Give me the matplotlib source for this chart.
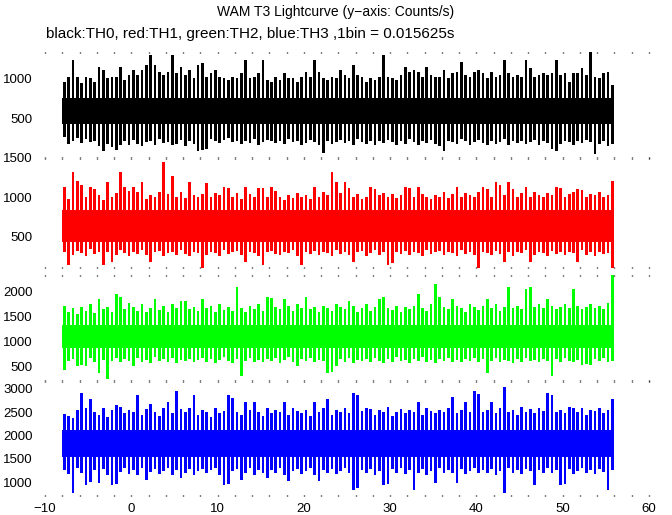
import numpy as np
import matplotlib
matplotlib.use("Agg")
import matplotlib.pyplot as plt

plt.rcParams['font.family'] = ['Liberation Sans', 'DejaVu Sans']

# time axis: 64 s of data, values read per 0.5 s bin (max and min of the bin)
t_start = -8.0
bin_s = 0.5

# TH0 (black)
th0_hi = [967, 1029, 1237, 1029, 946, 1029, 1008, 967, 1154, 1112, 1008, 1029, 1029, 1154, 987, 1050,
          1112, 1050, 1112, 1175, 1300, 1175, 1092, 1050, 1092, 1300, 1071, 1154, 1050, 1112, 1008, 1175,
          1196, 1029, 1071, 1112, 1029, 1008, 987, 1029, 1008, 1071, 1237, 1008, 1029, 1071, 1237, 987,
          967, 1029, 987, 1071, 1008, 1008, 967, 1029, 1092, 1029, 1237, 1092, 1008, 987, 1029, 1008,
          1112, 1050, 1008, 1175, 1050, 1029, 967, 1008, 987, 1029, 1300, 1029, 1008, 987, 1050, 1154,
          1092, 1112, 1092, 1029, 1154, 1050, 1029, 1029, 1112, 1008, 1071, 1092, 1217, 1050, 1029, 1092,
          1112, 1071, 1008, 1092, 1029, 1050, 1237, 1071, 1029, 1050, 1029, 1237, 1133, 1029, 1050, 1071,
          1050, 1071, 1237, 1050, 1071, 967, 1071, 1071, 1133, 1050, 1362, 1029, 1008, 1071, 1092, 925]
th0_lo = [260, 180, 220, 250, 190, 240, 200, 210, 150, 90, 180, 140, 100, 170, 210, 160,
          230, 180, 150, 200, 220, 170, 240, 190, 200, 160, 180, 230, 150, 210, 180, 90,
          100, 120, 240, 210, 190, 230, 250, 200, 220, 180, 210, 190, 240, 170, 200, 230,
          210, 190, 220, 180, 240, 200, 210, 160, 190, 230, 200, 170, 60, 220, 180, 200,
          230, 190, 210, 160, 240, 200, 180, 220, 170, 210, 190, 230, 200, 160, 220, 180,
          240, 200, 170, 210, 190, 230, 180, 150, 90, 220, 200, 180, 240, 210, 170, 200,
          230, 190, 160, 220, 180, 200, 240, 170, 210, 190, 220, 180, 200, 230, 160, 210,
          190, 120, 90, 180, 220, 200, 170, 210, 190, 230, 200, 50, 180, 210, 150, 175]

# TH1 (red)
th1_hi = [1130, 980, 1320, 1200, 1160, 1000, 1130, 1100, 1020, 960, 1190, 1000, 1050, 1320, 1130, 1080,
          1130, 1060, 1190, 980, 1030, 1000, 1060, 1450, 1040, 1270, 1000, 1060, 990, 1190, 1030, 1000,
          1040, 1180, 1000, 1050, 1020, 1130, 1110, 1000, 1050, 980, 1130, 1040, 1000, 1120, 1110, 1000,
          1130, 1080, 1000, 960, 1030, 990, 1050, 1000, 1020, 970, 1130, 1000, 1060, 1020, 1320, 1190,
          1050, 1190, 1120, 1000, 1040, 980, 1000, 1130, 1100, 1020, 1050, 1000, 1040, 990, 1020, 1130,
          1110, 1000, 1130, 1040, 1000, 980, 1030, 1000, 1060, 990, 1040, 1130, 1000, 1050, 1020, 1000,
          1060, 1130, 1100, 1000, 1190, 1150, 1030, 1190, 1100, 1000, 1050, 1130, 1000, 1060, 1020, 1000,
          1050, 1030, 1130, 1110, 1000, 1040, 1060, 1100, 1090, 1000, 1040, 1020, 1060, 1000, 1030, 1200]
th1_lo = [300, 130, 260, 310, 280, 250, 330, 270, 290, 130, 300, 170, 260, 320, 280, 250,
          300, 270, 320, 260, 170, 290, 310, 250, 280, 300, 260, 320, 270, 240, 300, 280,
          65, 260, 300, 280, 250, 320, 270, 290, 310, 260, 170, 300, 280, 250, 130, 290,
          310, 270, 260, 300, 280, 320, 250, 130, 290, 270, 310, 260, 300, 280, 250, 320,
          270, 300, 260, 170, 290, 310, 250, 280, 320, 260, 300, 130, 150, 290, 270, 310,
          260, 300, 280, 250, 320, 270, 290, 310, 260, 300, 280, 250, 320, 270, 290, 260,
          85, 300, 280, 260, 310, 270, 170, 290, 250, 300, 280, 320, 170, 260, 300, 280,
          250, 310, 270, 290, 260, 300, 280, 170, 320, 260, 290, 250, 300, 270, 280, 85]

# TH2 (green)
th2_hi = [1720, 1600, 1680, 1560, 1700, 1620, 1750, 1580, 1850, 1650, 1700, 1600, 1960, 1900, 1650, 1780,
          1700, 1620, 1750, 1600, 1680, 1850, 1640, 1720, 1600, 1760, 1680, 1820, 1820, 1650, 1700, 1620,
          1850, 1680, 1720, 1600, 1750, 1640, 1700, 1620, 2100, 1680, 1600, 1720, 1650, 1750, 1620, 1900,
          1880, 1700, 1650, 1850, 1720, 1620, 1760, 1680, 1900, 1650, 1700, 1600, 1720, 1680, 1620, 1750,
          1700, 1650, 1820, 1720, 1600, 1680, 1750, 1620, 1700, 1850, 1900, 1680, 1640, 1720, 1600, 1700,
          1650, 1720, 1960, 1680, 1620, 1750, 2160, 1900, 1700, 1650, 1850, 1720, 1680, 1600, 1750, 1700,
          1640, 1720, 1850, 1680, 1750, 1620, 1700, 2100, 1680, 1720, 1650, 2050, 2100, 1700, 1750, 1680,
          1850, 1720, 1650, 1700, 1750, 1680, 2050, 1720, 1650, 1700, 1760, 1680, 1720, 1650, 1780, 2350]
th2_lo = [440, 620, 660, 510, 530, 510, 680, 600, 380, 640, 250, 620, 680, 590, 650, 610,
          510, 670, 600, 640, 580, 690, 620, 650, 600, 680, 570, 640, 610, 660, 590, 630,
          680, 600, 650, 580, 640, 690, 610, 570, 660, 310, 620, 680, 600, 640, 590, 650,
          610, 670, 580, 640, 690, 600, 510, 650, 620, 680, 590, 640, 610, 380, 400, 510,
          650, 600, 680, 570, 640, 610, 660, 590, 680, 620, 570, 650, 600, 690, 610, 640,
          580, 660, 620, 690, 600, 640, 570, 650, 610, 680, 600, 640, 590, 660, 620, 680,
          600, 650, 380, 620, 680, 590, 640, 610, 570, 660, 600, 680, 620, 640, 590, 650,
          610, 310, 660, 600, 680, 620, 590, 640, 540, 560, 540, 650, 610, 680, 600, 620]

# TH3 (blue)
th3_hi = [2470, 2420, 2380, 2550, 2915, 2600, 2790, 2500, 2450, 2580, 2400, 2550, 2660, 2620, 2480, 2550,
          2500, 2860, 2450, 2560, 2680, 2500, 2420, 2600, 2720, 2480, 2965, 2560, 2500, 2600, 2860, 2450,
          2550, 2500, 2400, 2600, 2480, 2520, 2860, 2800, 2500, 2450, 2720, 2550, 2720, 2500, 2420, 2600,
          2480, 2550, 2500, 2720, 2450, 2600, 2520, 2480, 2550, 2420, 2720, 2500, 2580, 2790, 2450, 2550,
          2500, 2600, 2480, 2915, 2860, 2520, 2580, 2560, 2450, 2550, 2500, 2620, 2420, 2500, 2560, 2480,
          2550, 2500, 2720, 2450, 2600, 2520, 2480, 2550, 2500, 2600, 2820, 2480, 2550, 2720, 2500, 2965,
          2900, 2500, 2550, 2720, 2480, 2600, 3036, 2500, 2550, 2450, 2620, 2500, 2560, 2480, 2600, 2520,
          2915, 2880, 2500, 2550, 2480, 2620, 2580, 2500, 2600, 2450, 2550, 2520, 2600, 2480, 2550, 2790]
th3_lo = [1250, 1180, 766, 1300, 1200, 943, 1000, 1250, 980, 1280, 1150, 943, 960, 1220, 1300, 1180,
          1250, 1150, 1300, 1050, 1220, 1280, 1170, 1240, 1300, 1150, 1260, 1080, 1200, 1290, 1160, 1230,
          1280, 1190, 1250, 1300, 1160, 943, 960, 1230, 1270, 1050, 1200, 1300, 1150, 1250, 1190, 1080,
          1260, 1200, 1300, 1160, 1015, 1240, 1280, 1180, 1230, 1300, 1150, 1015, 1250, 1200, 1280, 1170,
          1240, 1300, 1190, 837, 880, 1250, 1200, 1280, 1160, 1230, 943, 960, 1270, 1200, 1300, 1180,
          1250, 837, 1200, 1280, 1160, 1240, 980, 1300, 1190, 1250, 1200, 980, 1280, 1170, 1240, 1300,
          1190, 1250, 1200, 1280, 1160, 1230, 766, 1300, 1200, 1250, 1180, 1280, 1230, 943, 1250, 1190,
          1300, 1200, 1260, 943, 960, 1280, 1180, 1240, 1300, 1200, 1250, 1170, 1280, 1220, 837, 1250]

# dense middle band of each curve
core_lo = [425, 418, 869, 1546]
core_hi = [758, 833, 1326, 2114]

colors = ['black', 'red', '#00ff00', 'blue']
ylims = [(0, 1340), (90, 1500), (215, 2335), (700, 3170)]
yticks = [[500, 1000], [500, 1000, 1500], [500, 1000, 1500, 2000], [1000, 1500, 2000, 2500, 3000]]
xticks = [-10, 0, 10, 20, 30, 40, 50, 60]

his = [th0_hi, th1_hi, th2_hi, th3_hi]
los = [th0_lo, th1_lo, th2_lo, th3_lo]

W, H = 672, 515
# panel top / bottom in pixels
panels = [(52, 158), (158, 268), (275, 381), (381, 496)]

fig = plt.figure(figsize=(W / 100, H / 100), dpi=100)

for k in range(4):
    top, bot = panels[k]
    ax = fig.add_axes([45 / W, 1 - bot / H, 604 / W, (bot - top) / H])
    hi = np.array(his[k])
    lo = np.array(los[k])
    n = len(hi)
    t0 = t_start + bin_s * np.arange(n)
    t_end = t_start + bin_s * n
    ax.fill_between([t_start, t_end], core_lo[k], core_hi[k], color=colors[k], lw=0)
    # each bin drawn from its min to its max
    ax.bar(t0 + bin_s * 0.5, hi - lo, bottom=lo, width=bin_s * 0.62,
           color=colors[k], lw=0, antialiased=False)

    ax.set_xlim(-10, 60)
    ax.set_ylim(*ylims[k])
    ax.set_yticks(yticks[k])
    ax.set_xticks(xticks)
    ax.set_xticks(np.arange(-10, 61, 2), minor=True)
    for s in ax.spines.values():
        s.set_visible(False)
    ax.tick_params(axis='y', length=0, pad=9, labelsize=9.5)
    ax.tick_params(axis='x', which='both', length=1, width=1, direction='in',
                   top=True, bottom=True, labelsize=9.5, pad=5)
    if k < 3:
        ax.tick_params(axis='x', labelbottom=False)
    else:
        ax.set_xticklabels([str(v).replace('-', '\u2212') for v in xticks])

fig.text(0.5, 1 - 12 / H, 'WAM T3 Lightcurve (y\u2212axis: Counts/s)', ha='center', va='center', fontsize=10)
fig.text(46 / W, 1 - 34 / H, 'black:TH0, red:TH1, green:TH2, blue:TH3 ,1bin = 0.015625s',
         ha='left', va='center', fontsize=11)

fig.savefig('out.png', dpi=100)
